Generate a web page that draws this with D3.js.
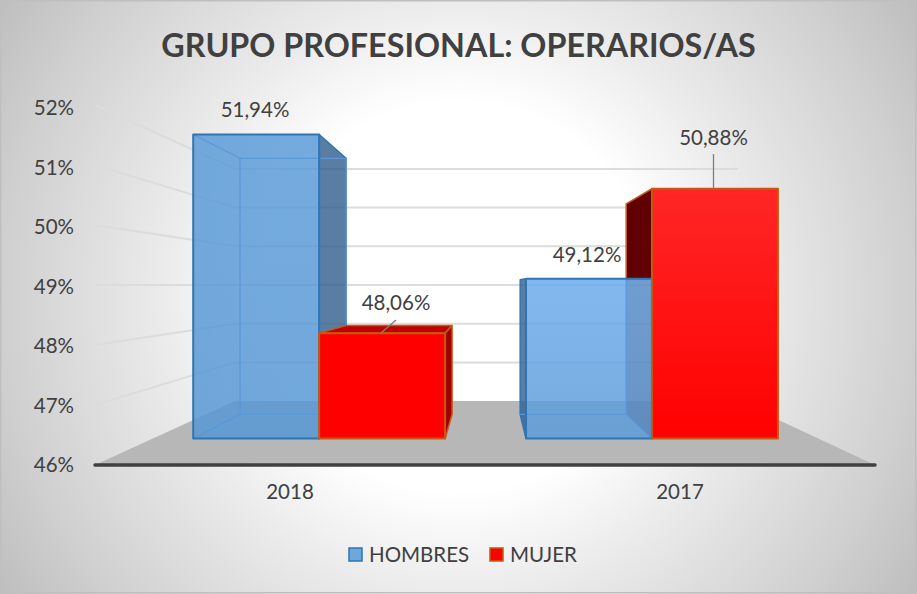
<!DOCTYPE html>
<html lang="es">
<head>
<meta charset="utf-8">
<title>Grupo profesional: operarios/as</title>
<script src="https://cdn.jsdelivr.net/npm/d3@7"></script>
<style>
html,body{margin:0;padding:0;background:#fff}
svg{display:block}
text{font-family:Lato,"Open Sans",sans-serif;fill:#404040}
</style>
</head>
<body>
<svg id="chart" width="917" height="594"></svg>
<script>
const chartTitle = "GRUPO PROFESIONAL: OPERARIOS/AS";
const categories = ["2018", "2017"];
const seriesNames = ["HOMBRES", "MUJER"];
const hombres = [51.94, 49.12];
const mujer = [48.06, 50.88];
const tickValues = [46, 47, 48, 49, 50, 51, 52];

const W = 917, H = 594;
const svg = d3.select("#chart");
const defs = svg.append("defs");

// Perspective: three depth planes converging on one vanishing point
const vp = {x: 489, y: 285};
const depth = {label: 60, front: 51.2, barBack: 43.1, wall: 38.7};

const xLabel = d3.scaleBand().domain(categories).range([95, 875]);
const worldX = d3.scaleLinear().domain([95, 875]).range([(95 - vp.x) / depth.label, (875 - vp.x) / depth.label]);
const xCat = d3.scaleBand().domain(categories).range(worldX.range()).paddingInner(0.243).paddingOuter(0.1215);
const xSer = d3.scaleBand().domain(seriesNames).range([0, xCat.bandwidth()]);
const yLabel = d3.scaleLinear().domain([46, 52]).range([465, 108]);
const yWorld = d3.scaleLinear().domain([46, 52]).range([3, -3]);

const pt = (X, v, s) => [vp.x + X * s, vp.y + yWorld(v) * s];
const line = d3.line();
const closed = pts => line(pts) + "Z";

// Background
const bg = defs.append("radialGradient").attr("id", "bg").attr("gradientUnits", "userSpaceOnUse")
  .attr("cx", 458).attr("cy", 297).attr("r", 540);
[[0, "#ffffff"], [0.36, "#ffffff"], [0.55, "#ebebeb"], [0.85, "#cfcfcf"], [1, "#bfbfbf"]].forEach(([o, c]) =>
  bg.append("stop").attr("offset", o).attr("stop-color", c));
svg.append("rect").attr("width", W).attr("height", H).attr("fill", "url(#bg)");
svg.append("rect").attr("x", 0.75).attr("y", 0.75).attr("width", W - 2).attr("height", H - 2)
  .attr("fill", "none").attr("stroke", "#bfbfbf").attr("stroke-width", 1.5);

// Gradients for bars
function grad(id, top, bottom) {
  const g = defs.append("linearGradient").attr("id", id).attr("x1", 0).attr("y1", 0).attr("x2", 0).attr("y2", 1);
  g.append("stop").attr("offset", 0).attr("stop-color", top);
  g.append("stop").attr("offset", 1).attr("stop-color", bottom);
}
grad("blue2018", "#5a9bd8", "#5697d4");
grad("blue2017", "#6aabec", "#5a9bd8");
grad("red2018", "#ff0000", "#ff0000");
grad("red2017", "#ff2626", "#ff0000");

// Floor
const [xL, xR] = worldX.range();
svg.append("path").attr("fill", "#b7b7b7")
  .attr("d", closed([pt(xL, 46, depth.label), pt(xL, 46, depth.wall), pt(xR, 46, depth.wall), pt(xR, 46, depth.label)]));

// Gridlines on side wall and back wall
const grid = svg.append("g").attr("fill", "none").attr("stroke", "#dcdcdc").attr("stroke-width", 2);
tickValues.filter(v => v > 46).forEach(v => {
  grid.append("path").attr("d", line([pt(xL, v, depth.label), pt(xL, v, depth.wall), pt(xR, v, depth.wall)]));
});

// Baseline
svg.append("line").attr("x1", 95).attr("x2", 875).attr("y1", 465).attr("y2", 465)
  .attr("stroke", "#404040").attr("stroke-width", 3.5).attr("stroke-linecap", "round");

// Axes
const fmtTick = d => d3.format("d")(d) + "%";
const yAxis = svg.append("g").attr("transform", "translate(79,0)")
  .call(d3.axisLeft(yLabel).tickValues(tickValues).tickFormat(fmtTick).tickSize(0).tickPadding(5));
yAxis.select(".domain").remove();
yAxis.selectAll("text").style("font-size", "20.5px").style("font-family", "Lato").attr("fill", "#404040");
const xAxis = svg.append("g").attr("transform", "translate(0,481)")
  .call(d3.axisBottom(xLabel).tickSize(0).tickPadding(3));
xAxis.select(".domain").remove();
xAxis.selectAll("text").style("font-size", "20.5px").style("font-family", "Lato").attr("fill", "#404040");

// Bars
const BLUE_EDGE = "#2e75b6", RED_EDGE = "#c55a11", INNER = "#5a98d8";

function faces(cat, ser, v) {
  const x0 = xCat(cat) + xSer(ser), x1 = x0 + xSer.bandwidth();
  const f = depth.front, b = depth.barBack;
  return {
    x0, x1,
    front: [pt(x0, v, f), pt(x1, v, f), pt(x1, 46, f), pt(x0, 46, f)],
    back: [pt(x0, v, b), pt(x1, v, b), pt(x1, 46, b), pt(x0, 46, b)],
    left: [pt(x0, v, f), pt(x0, v, b), pt(x0, 46, b), pt(x0, 46, f)],
    right: [pt(x1, v, f), pt(x1, v, b), pt(x1, 46, b), pt(x1, 46, f)],
    top: [pt(x0, v, f), pt(x1, v, f), pt(x1, v, b), pt(x0, v, b)]
  };
}
const face = (pts, fill, stroke, sw = 1.5, op = 1) => svg.append("path").attr("d", closed(pts))
  .attr("fill", fill).attr("fill-opacity", op).attr("stroke", stroke).attr("stroke-width", sw).attr("stroke-linejoin", "round");

// 2018
{
  const c = categories[0];
  const h = faces(c, seriesNames[0], hombres[0]), m = faces(c, seriesNames[1], mujer[0]);
  face(h.right, "#2f5d8c", BLUE_EDGE, 1.5, 0.8);
  face(h.front, "url(#blue2018)", "none", 0, 0.84);
  svg.append("path").attr("fill", "none").attr("stroke", INNER).attr("stroke-width", 1.3)
    .attr("d", closed(h.back) + line([h.front[0], h.back[0]]) + line([h.front[3], h.back[3]]));
  face(h.front, "none", BLUE_EDGE, 2);
  face(m.top, "#c00000", RED_EDGE);
  face(m.right, "#a00000", RED_EDGE);
  face(m.front, "url(#red2018)", RED_EDGE, 2);
}
// 2017
{
  const c = categories[1];
  const h = faces(c, seriesNames[0], hombres[1]), m = faces(c, seriesNames[1], mujer[1]);
  const vb = hombres[1];
  face([pt(m.x0, mujer[1], depth.front), pt(m.x0, mujer[1], depth.barBack), pt(m.x0, vb, depth.barBack), pt(m.x0, vb, depth.front)], "#600000", RED_EDGE);
  face(h.left, "#2f5d8c", BLUE_EDGE, 1.5, 0.8);
  face(h.front, "url(#blue2017)", "none", 0, 0.84);
  face(h.right, "#4a5f88", "none", 0, 0.3);
  svg.append("path").attr("fill", "none").attr("stroke", INNER).attr("stroke-width", 1.3)
    .attr("d", line([h.back[3], h.back[2]]) + line([h.back[2], h.back[1]]) + line([h.front[2], h.back[2]]));
  face(h.front, "none", BLUE_EDGE, 2);
  face(m.front, "url(#red2017)", RED_EDGE, 2);
}

// Data labels
const fmt = d3.formatLocale({decimal: ",", thousands: ".", grouping: [3], currency: ["", "€"]}).format(".2f");
const labelText = v => fmt(v) + "%";
const labels = [
  {v: hombres[0], x: 255, y: 117},
  {v: mujer[0], x: 396, y: 310},
  {v: hombres[1], x: 587, y: 262},
  {v: mujer[1], x: 713.5, y: 145}
];
svg.append("g").selectAll("text").data(labels).join("text")
  .attr("x", d => d.x).attr("y", d => d.y).attr("text-anchor", "middle")
  .style("font-size", "20.5px").text(d => labelText(d.v));

// Leader lines
const leaders = [
  [[381, 333], [396, 320]],
  [[713.5, 188], [713.5, 154]]
];
svg.append("g").selectAll("path").data(leaders).join("path")
  .attr("d", d => line(d)).attr("fill", "none").attr("stroke", "#7f7f7f").attr("stroke-width", 1.3);

// Title
svg.append("text").attr("x", 458.5).attr("y", 57).attr("text-anchor", "middle")
  .style("font-size", "32.3px").style("font-weight", 700).text(chartTitle);

// Legend
const legend = [
  {name: seriesNames[0], x: 349, fill: "#6fa6db", stroke: BLUE_EDGE},
  {name: seriesNames[1], x: 490, fill: "#ff0000", stroke: RED_EDGE}
];
const lg = svg.append("g").selectAll("g").data(legend).join("g");
lg.append("rect").attr("x", d => d.x).attr("y", 548).attr("width", 13).attr("height", 13)
  .attr("fill", d => d.fill).attr("stroke", d => d.stroke).attr("stroke-width", 1.5);
lg.append("text").attr("x", d => d.x + 20).attr("y", 562).style("font-size", "20.5px").text(d => d.name);
</script>
</body>
</html>
